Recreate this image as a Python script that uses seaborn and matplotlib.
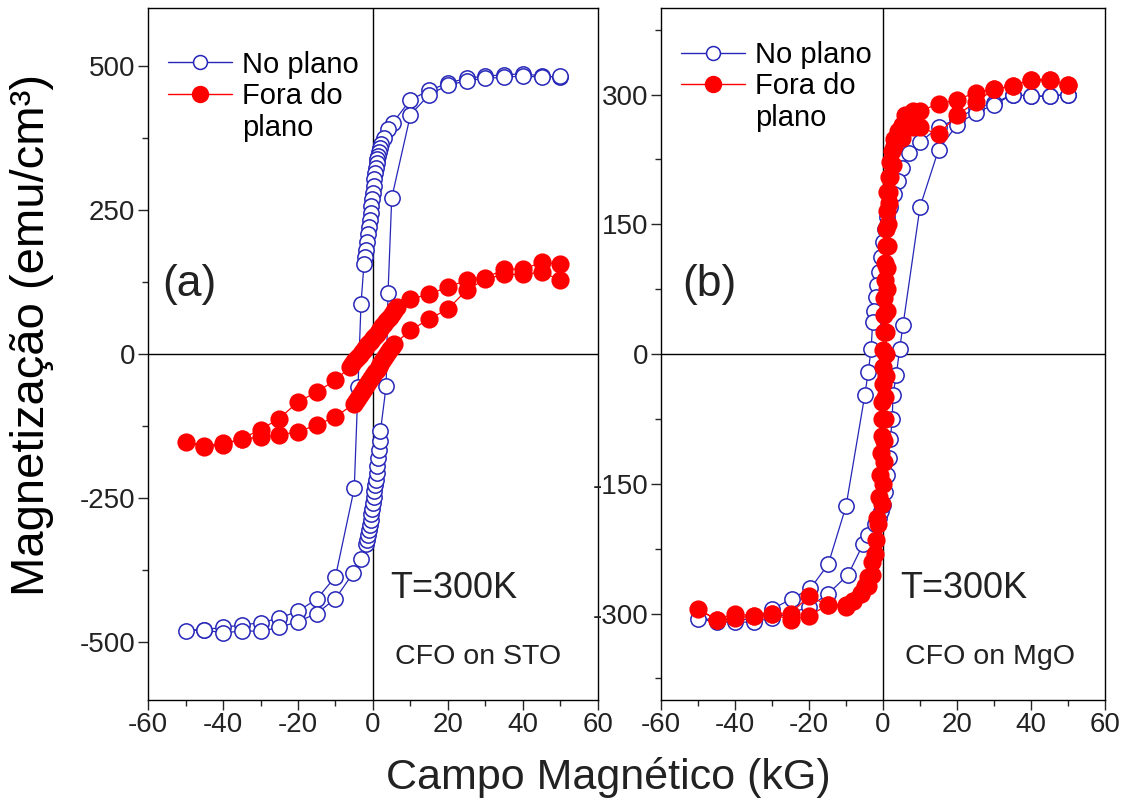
import matplotlib
matplotlib.use('Agg')
import matplotlib.pyplot as plt
from matplotlib.lines import Line2D
from matplotlib.ticker import MultipleLocator
import seaborn as sns

sns.set_style('ticks')
plt.rcParams['font.family'] = ['Liberation Sans', 'DejaVu Sans']
plt.rcParams['axes.unicode_minus'] = False

# (a) CFO on STO - in plane (descending branch, then ascending branch)
h_a_in = [50, 45, 40, 35, 30, 25, 20, 15, 10, 5.3, 4.0, 3.0,
          2.2, 1.9, 1.6, 1.4, 1.2, 1.0, 0.8, 0.6, 0.4, 0.2, 0.0,
          -0.2, -0.4, -0.6, -0.8, -1.0, -1.2, -1.5, -1.8, -2.1, -2.4,
          -3.2, -4.0, -5.0, -10, -15, -20, -25, -30, -35, -40, -45, -50,
          -45, -40, -35, -30, -25, -20, -15, -10, -5.3, -3.2, -1.9,
          -1.6, -1.3, -1.0, -0.8, -0.6, -0.4, -0.2, 0.0, 0.2, 0.4, 0.6,
          0.8, 1.0, 1.2, 1.4, 1.6, 1.8, 2.0, 3.5, 4.0, 5.0,
          10, 15, 20, 25, 30, 35, 40, 45, 50]
m_a_in = [480, 482, 486, 484, 482, 478, 470, 457, 441, 401, 390, 375,
          365, 357, 350, 344, 338, 331, 323, 314, 303, 292, 280,
          268, 256, 244, 232, 220, 208, 194, 181, 168, 156,
          87, -57, -233, -386, -425, -446, -458, -466, -470, -474, -478, -480,
          -478, -484, -480, -481, -474, -464, -450, -424, -380, -355, -330,
          -322, -314, -305, -296, -287, -278, -268, -258, -248, -238, -228,
          -218, -206, -194, -180, -166, -150, -133, -56, 105, 271,
          415, 450, 466, 474, 478, 480, 482, 480, 482]

# (a) CFO on STO - out of plane
h_a_out = [50, 45, 40, 35, 30, 25, 20, 15, 10,
           6.5, 6.0, 5.5, 5.0, 4.5, 4.0, 3.5, 3.0, 2.5, 2.0, 1.5, 1.0, 0.5,
           0.0, -0.5, -1.0, -1.5, -2.0, -2.5, -3.0, -3.5, -4.0, -4.5, -5.0,
           -5.5, -6.0, -10, -15, -20, -25, -30, -35, -40, -45, -50,
           -45, -40, -35, -30, -25, -20, -15, -10,
           -5.0, -4.5, -4.0, -3.5, -3.0, -2.5, -2.0, -1.5, -1.0, -0.5, 0.0,
           0.5, 1.0, 1.5, 2.0, 2.5, 3.0, 3.5, 4.0, 4.5, 5.0, 5.6,
           10, 15, 20, 25, 30, 35, 40, 45, 50]
m_a_out = [156, 159, 147, 147, 132, 128, 116, 104, 95,
           81, 78, 74, 69, 65, 61, 57, 52, 48, 44, 40, 35, 31,
           27, 23, 19, 15, 11, 7, 3, -1, -5, -9, -13,
           -18, -22, -45, -66, -83, -112, -131, -147, -158, -161, -152,
           -159, -155, -148, -144, -140, -135, -123, -109,
           -86, -81, -76, -71, -66, -61, -57, -52, -47, -42, -37,
           -32, -27, -22, -17, -12, -7, -2, 3, 8, 12, 17,
           41, 61, 78, 111, 130, 138, 138, 142, 128]

# (b) CFO on MgO - in plane
h_b_in = [50, 45, 40, 35, 30, 25, 20, 15, 10,
          7, 5, 4, 3, 2, 1, 0.5, 0, -0.5, -1, -1.5, -2, -2.5, -2.8, -3.2, -4, -4.9,
          -10, -14.8, -19.6, -24.7, -30, -35, -40, -45, -50,
          -45, -40, -35, -30, -25, -20, -15, -9.4, -5.4, -4, -2.2,
          -1.2, -0.5, 0, 0.5, 1, 1.5, 2, 2.5, 2.7, 3.6, 4.5, 5.4,
          10, 15, 20, 25, 30, 35, 40, 45, 50]
m_b_in = [300, 298, 298, 300, 290, 284, 272, 262, 245,
          232, 215, 200, 185, 170, 158, 145, 130, 112, 95, 80, 66, 50, 37, 6, -21, -47,
          -176, -243, -271, -283, -295, -307, -307, -307, -306,
          -310, -310, -310, -305, -300, -292, -278, -255, -220, -209, -196,
          -190, -182, -175, -160, -140, -120, -98, -75, -47, -24, 6, 33,
          170, 236, 265, 279, 288, 300, 298, 298, 300]

# (b) CFO on MgO - out of plane
h_b_out = [50, 45, 40, 35, 30, 25, 20, 15, 10,
           8, 6, 5, 4, 3, 2.5, 2, 1.5, 1.2,
           1.0, 0.8, 0.7, 0.6, 0.5, 0.4, 0.3, 0.2, 0.1, 0.0, -0.1, -0.2, -0.3,
           -0.4, -0.5, -0.7, -1.0, -1.5,
           -2, -3, -4, -5, -6, -8,
           -10, -15, -20, -25, -30, -35, -40, -45, -50,
           -45, -40, -35, -30, -25, -20, -15, -10,
           -8, -6, -4, -3, -2.1, -1.3,
           -0.3, 0.1, 0.3, 0.4, 0.5, 0.6, 0.7, 0.8, 0.9, 1.0, 1.1, 1.2, 1.3,
           1.4, 1.5, 1.7, 2.0,
           2.7, 3.0, 5.0, 8.0,
           10, 15, 20, 25, 30, 35, 40, 45, 50]
m_b_out = [311, 317, 317, 310, 306, 302, 294, 289, 281,
           281, 276, 265, 258, 248, 235, 222, 205, 187,
           165, 145, 125, 105, 85, 65, 45, 25, 5, -15, -35, -55, -75,
           -95, -115, -140, -165, -190,
           -215, -240, -258, -268, -276, -285,
           -290, -290, -303, -307, -301, -303, -300, -307, -295,
           -307, -305, -303, -301, -300, -280, -290, -292,
           -285, -278, -268, -255, -231, -197,
           -173, -150, -125, -100, -75, -50, -25, 0, 25, 50, 75, 100, 125,
           150, 175, 187, 205,
           219, 240, 250, 262,
           262, 254, 276, 291, 306, 310, 317, 317, 311]

blue = '#2626b8'
red = '#ff0000'
text_col = '#222222'

fig = plt.figure(figsize=(11.35, 8.07), dpi=100)
ax_a = fig.add_axes([148 / 1135, 1 - 700 / 807, 450 / 1135, 692 / 807])
ax_b = fig.add_axes([661 / 1135, 1 - 700 / 807, 444 / 1135, 692 / 807])


def draw_loop(ax, h, m, color, face, ms):
    sns.lineplot(x=h, y=m, ax=ax, sort=False, estimator=None, color=color,
                 linewidth=0.9, marker='o', markersize=ms, markerfacecolor=face,
                 markeredgecolor=color, markeredgewidth=1.1, zorder=3)


panels = [
    (ax_a, h_a_in, m_a_in, h_a_out, m_a_out, 600, 250, 125, '(a)', 0.093, 'CFO on STO', 0.947),
    (ax_b, h_b_in, m_b_in, h_b_out, m_b_out, 400, 150, 75, '(b)', 0.108, 'CFO on MgO', 0.961),
]

for ax, hi, mi, ho, mo, ymax, ymaj, ymin, tag, tag_x, sample, leg_y in panels:
    draw_loop(ax, hi, mi, blue, 'white', 11)
    draw_loop(ax, ho, mo, red, red, 12)
    ax.axhline(0, color='black', lw=1, zorder=1)
    ax.axvline(0, color='black', lw=1, zorder=1)

    ax.set_xlim(-60, 60)
    ax.set_ylim(-ymax, ymax)
    ax.xaxis.set_major_locator(MultipleLocator(20))
    ax.xaxis.set_minor_locator(MultipleLocator(10))
    ax.yaxis.set_major_locator(MultipleLocator(ymaj))
    ax.yaxis.set_minor_locator(MultipleLocator(ymin))
    ax.tick_params(which='major', direction='out', length=7, width=1,
                   labelsize=20, labelcolor=text_col, pad=2)
    ax.tick_params(which='minor', direction='out', length=4, width=1)
    ax.set_xlabel('')
    ax.set_ylabel('')
    for sp in ax.spines.values():
        sp.set_visible(True)
        sp.set_linewidth(1)
        sp.set_color('black')

    ax.text(tag_x, 0.60, tag, transform=ax.transAxes, fontsize=32,
            color=text_col, ha='center', va='center')
    ax.text(0.538, 0.161, 'T=300K', transform=ax.transAxes, fontsize=26,
            color=text_col, ha='left', va='center')
    ax.text(0.549, 0.062, sample, transform=ax.transAxes, fontsize=20.5,
            color=text_col, ha='left', va='center')

    handles = [
        Line2D([], [], color=blue, lw=1, marker='o', markersize=10,
               markerfacecolor='white', markeredgecolor=blue, markeredgewidth=1.1),
        Line2D([], [], color=red, lw=1, marker='o', markersize=11.5,
               markerfacecolor=red, markeredgecolor=red),
        Line2D([], [], linestyle='none'),
    ]
    ax.legend(handles, ['No plano', 'Fora do', 'plano'], loc='upper left',
              bbox_to_anchor=(0.031, leg_y), borderaxespad=0, borderpad=0.2,
              frameon=False, fontsize=21, handlelength=2.2, handletextpad=0.35,
              labelspacing=0.12, labelcolor='black')

fig.text(32 / 1135, 1 - 335 / 807, 'Magnetização (emu/cm³)', rotation=90,
         fontsize=34, color='black', ha='center', va='center')
fig.text(608 / 1135, 1 - 778 / 807, 'Campo Magnético (kG)', fontsize=31,
         color=text_col, ha='center', va='center')

fig.savefig('out.png', dpi=100)
